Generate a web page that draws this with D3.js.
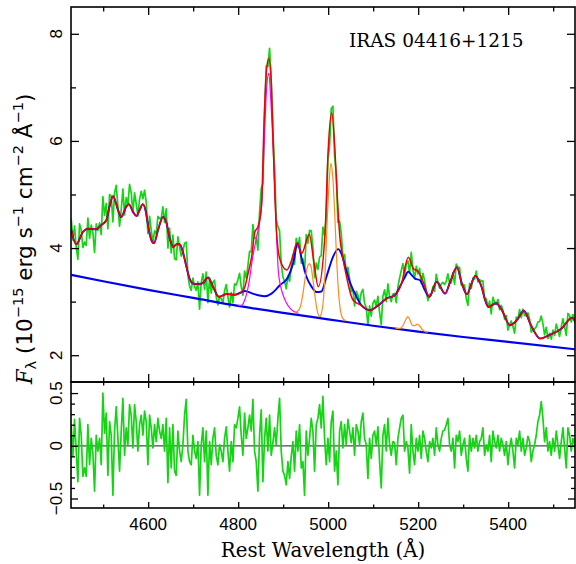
<!DOCTYPE html>
<html><head><meta charset="utf-8">
<script src="https://cdn.jsdelivr.net/npm/d3@7"></script>
<style>body{margin:0;background:#fff}svg{display:block}</style>
</head><body>
<svg id="c" width="576" height="564"></svg>
<script>
// ---------------- DATA ----------------
// observed spectrum sampled on a linear wavelength grid (Angstrom)
const specStart = 4429, specStep = 3.704;
const obsFlux = [
4.54,4.15,4.41,4.02,3.79,4.45,4.34,4.01,4.11,4.05,
4.56,4.18,4.43,4.29,3.92,4.45,4.33,4.47,4.25,4.96,
4.61,4.83,4.36,5.00,4.97,4.49,5.03,5.17,4.79,4.41,
4.72,5.10,4.62,4.94,4.81,5.19,5.03,4.66,5.03,4.83,
4.60,4.91,5.06,4.92,5.08,4.86,4.27,4.59,4.33,4.10,
4.32,4.26,4.59,4.55,4.56,4.77,4.48,4.73,4.00,4.37,
3.91,4.24,3.80,3.78,4.21,4.02,3.85,3.94,4.09,4.11,
3.50,3.29,3.21,3.44,3.28,3.21,3.37,2.86,3.35,3.52,
3.23,3.55,2.98,3.44,3.16,3.36,3.40,3.09,2.94,3.10,
3.06,2.97,3.20,3.32,3.09,2.90,3.17,2.98,3.33,3.31,
3.41,3.53,3.28,3.12,3.57,3.44,3.67,3.94,3.93,4.44,
4.19,4.19,3.96,4.67,5.11,5.21,6.52,7.40,7.39,7.73,
7.10,6.23,5.50,4.53,4.40,4.32,3.70,3.46,3.38,3.24,
3.48,3.38,3.65,3.88,3.70,4.18,4.02,4.20,3.72,3.80,
3.56,4.25,4.09,4.33,4.32,4.01,3.45,3.72,3.60,3.83,
3.86,4.39,4.24,4.58,5.65,5.90,6.60,6.65,5.72,5.38,
4.48,4.50,4.28,3.82,3.88,3.53,3.64,3.42,3.19,3.22,
2.92,3.19,3.12,2.97,3.17,3.23,2.97,2.89,2.56,2.92,
2.73,2.97,3.03,2.92,3.10,2.80,2.57,3.10,3.22,3.00,
3.33,3.09,3.00,3.14,3.15,2.98,3.28,3.44,3.58,3.71,
3.49,3.70,3.76,3.53,3.92,3.60,3.43,3.66,3.52,3.62,
3.34,3.53,3.39,3.20,3.02,3.14,3.13,3.28,3.19,3.51,
3.36,3.25,3.33,3.36,3.32,3.38,3.52,3.34,3.35,3.54,
3.32,3.70,3.64,3.64,3.31,3.32,3.31,3.06,2.93,3.34,
3.25,3.44,3.42,3.57,3.37,3.41,3.38,3.39,3.04,3.05,
2.90,3.01,2.77,3.08,2.99,2.95,3.04,2.85,2.93,2.84,
2.67,2.74,2.47,2.57,2.64,2.54,2.41,2.71,2.68,2.85,
2.70,2.86,2.74,2.74,2.79,2.67,2.43,2.48,2.49,2.53,
2.62,2.63,2.73,2.59,2.38,2.52,2.31,2.41,2.30,2.47,
2.37,2.58,2.47,2.35,2.53,2.68,2.53,2.37,2.78,2.74,
2.62,2.76,2.65];
// residuals (data - model) on the same grid
const residual = [
0.20,-0.10,0.25,-0.05,-0.34,0.26,0.10,-0.29,-0.21,-0.29,
0.20,-0.18,0.07,-0.07,-0.43,0.10,-0.05,0.07,-0.18,0.50,
0.12,0.31,-0.28,0.23,0.10,-0.47,0.14,0.37,0.07,-0.24,
0.14,0.45,-0.09,0.17,0.01,0.39,0.29,-0.02,0.39,0.23,
-0.05,0.20,0.29,0.10,0.33,0.23,-0.18,0.29,0.17,-0.02,
0.20,0.04,0.26,0.14,0.07,0.20,-0.05,0.26,-0.35,0.17,
-0.21,0.20,-0.24,-0.28,0.14,-0.05,-0.15,0.01,0.29,0.44,
-0.05,-0.15,-0.18,0.10,-0.05,-0.12,0.04,-0.47,0.01,0.17,
-0.15,0.14,-0.47,0.04,-0.18,0.07,0.17,-0.09,-0.18,0.01,
-0.05,-0.15,0.07,0.18,-0.05,-0.24,0.04,-0.15,0.20,0.17,
0.26,0.37,0.10,-0.09,0.31,0.07,0.17,0.29,0.14,0.44,
-0.05,-0.15,-0.43,0.10,0.34,-0.34,0.07,0.26,-0.05,0.29,
-0.09,0.03,0.17,0.01,0.26,0.45,-0.05,-0.24,-0.28,-0.37,
-0.15,-0.31,-0.10,0.04,-0.24,0.14,-0.05,0.20,-0.21,-0.15,
-0.47,0.14,-0.09,0.07,0.26,0.14,-0.24,0.20,0.26,0.39,
0.17,
0.47,0.07,-0.18,0.07,-0.15,0.23,0.33,-0.24,-0.05,-0.37,
0.14,0.23,-0.02,0.20,0.01,0.25,0.14,0.03,0.17,-0.09,
0.20,0.14,0.01,0.23,0.31,0.07,0.01,-0.31,0.07,-0.12,
0.10,0.14,0.01,0.18,-0.15,-0.40,0.10,0.20,-0.05,0.26,
0.01,-0.09,0.04,0.03,-0.18,0.07,0.17,0.26,0.29,-0.05,
0.04,-0.02,-0.26,0.20,-0.05,-0.18,0.07,-0.05,0.10,-0.12,
0.14,0.07,-0.05,-0.15,0.04,-0.02,0.07,-0.09,0.17,0.01,
-0.05,0.07,0.14,0.15,0.20,0.26,0.01,-0.05,0.07,-0.21,
0.10,0.04,0.14,-0.09,0.01,0.07,-0.12,-0.24,0.10,-0.05,
0.07,-0.02,0.10,-0.05,0.04,0.07,0.17,-0.09,0.01,-0.05,
0.10,-0.15,0.14,0.04,-0.02,0.10,-0.05,0.07,0.01,-0.09,
0.04,-0.18,-0.02,0.07,-0.05,-0.21,0.07,0.01,0.14,-0.05,
0.07,-0.09,-0.02,0.09,0.04,-0.15,-0.05,0.01,0.10,0.23,
0.29,0.42,0.26,0.04,0.17,-0.05,0.04,-0.09,0.07,-0.05,
0.14,0.01,-0.12,0.04,0.17,-0.02,-0.21,0.17,0.10,-0.05,
0.07,0.01];

// total model (red)
const modelWave = [4429,4440,4455,4466,4484,4496,4507,4514,4522,4533,4540,4551,4557,4566,4574,4581,4588,4594,4599,4607,
4613,4622,4633,4641,4648,4656,4663,4670,4677,4685,4692,4699,4704,4714,4722,4733,4744,4757,4774,4793,
4808,4815,4822,4830,4837,4844,4852,4857,4863,4868,4873,4878,4885,4893,4908,4919,4931,4941,4958,4968,
4978,4993,5000,5008,5015,5020,5026,5032,5041,5055,5074,5093,5111,5130,5148,5163,5178,5189,5200,5211,
5225,5241,5260,5271,5286,5297,5308,5327,5338,5356,5373,5386,5404,5419,5435,5449,5471,5490,5519,5542,5551];
const modelFlux = [4.34,4.07,4.30,4.36,4.35,4.43,4.52,4.77,4.97,4.71,4.58,4.77,4.82,4.68,4.60,4.71,4.82,4.71,4.46,4.15,
4.09,4.34,4.58,4.46,4.18,4.02,4.07,4.07,3.93,3.65,3.43,3.34,3.33,3.33,3.35,3.45,3.28,3.09,3.14,3.13,
3.18,3.28,3.53,3.84,4.30,4.40,4.83,6.21,7.33,7.54,7.20,5.89,4.34,3.78,3.59,3.78,4.10,3.90,4.26,3.75,
3.28,4.27,5.83,6.52,5.83,5.00,4.20,3.85,3.46,3.03,2.93,2.84,2.93,3.06,3.12,3.34,3.83,3.62,3.56,3.37,
3.09,3.37,3.15,3.37,3.64,3.34,3.14,3.48,3.34,2.90,2.97,2.84,2.56,2.65,2.83,2.59,2.31,2.37,2.50,2.70,2.59];

// Fe II + continuum (blue) where it departs from the total model
const feLineWave = [4808,4815,4832,4845,4858,4874,4893,4911,4922,4932,4941,4952,4963,4974,4985,4996,5011,5022,5030,5037,5048,5063,5074,
5163,5170,5178,5185,5193,5204,5215,5225];
const feLineFlux = [3.18,3.20,3.15,3.12,3.10,3.15,3.31,3.46,3.71,4.09,3.81,3.46,3.28,3.18,3.19,3.46,3.84,3.98,3.88,3.68,3.37,3.09,2.93,
3.34,3.45,3.56,3.50,3.43,3.40,3.21,3.09];

// power-law continuum (blue straight-ish line)
const contWave = [4429,4500,4600,4700,4800,4900,5000,5100,5200,5300,5400,5550];
const contFlux = [3.50,3.38,3.22,3.07,2.92,2.79,2.67,2.55,2.44,2.34,2.25,2.11];

// broad H-beta (+continuum), magenta
const hbWave = [4800,4808,4814,4819,4825,4830,4836,4841,4847,4852,4856,4859,4863,4868,4872,4876,4879,4882,4886,4889,4894,4900,4907,4915,4925,4934];
const hbFlux = [2.93,2.93,3.02,3.15,3.40,3.71,4.00,4.21,4.45,4.77,5.50,6.21,6.95,7.26,6.85,6.21,5.60,4.96,4.10,3.59,3.30,3.12,2.98,2.88,2.81,2.78];

// narrow [O III] lines (+continuum), orange
const o3Wave = [4926,4932,4938,4944,4949,4954,4958,4962,4966,4971,4976,4981,4986,4990,4994,4998,5002,5006,5010,5014,5018,5022,5027,5033,5040];
const o3Flux = [2.80,2.82,2.90,3.15,3.45,3.65,3.71,3.65,3.42,3.08,2.82,2.72,2.82,3.10,3.70,4.55,5.20,5.58,5.35,4.75,3.95,3.30,2.85,2.68,2.64];

// weak narrow lines near 5177-5199 (+continuum), orange
const nlWave = [5150,5160,5166,5171,5177,5182,5187,5192,5198,5203,5209,5216,5222];
const nlFlux = [2.50,2.50,2.55,2.64,2.72,2.65,2.56,2.55,2.58,2.55,2.48,2.44,2.43];

// ticks
const xMajor = [4600,4800,5000,5200,5400];
const xMinor = [4500,4700,4900,5100,5300,5500];
const xLabels = ["4600","4800","5000","5200","5400"];
const yTopMajor = [2,4,6,8];
const yTopMinor = [3,5,7];
const yTopLabels = ["2","4","6","8"];
const yResMajor = [-0.5,0,0.5];
const yResMinor = [-0.4,-0.3,-0.2,-0.1,0.1,0.2,0.3,0.4];
const yResLabels = ["\u22120.5","0","0.5"];
const title = "IRAS 04416+1215";
const xTitle = "Rest Wavelength (\u00C5)";

// ---------------- LAYOUT ----------------
const L = 71, R = 575, T = 7, M = 382, B = 508;
const x = d3.scaleLinear().domain([4428.5, 5548.5]).range([L, R]);
const yT = d3.scaleLinear().domain([1.5, 8.5]).range([M, T]);
const yB = d3.scaleLinear().domain([-0.59, 0.605]).range([B, M]);

const svg = d3.select("#c");
const defs = svg.append("defs");
defs.append("clipPath").attr("id","clipT").append("rect").attr("x",L).attr("y",T).attr("width",R-L).attr("height",M-T);
defs.append("clipPath").attr("id","clipB").append("rect").attr("x",L).attr("y",M).attr("width",R-L).attr("height",B-M);

const spec = obsFlux.map((f,i) => ({w: specStart + i*specStep, f: f, r: residual[i]}));
const pairs = (ws, fs) => ws.map((w,i) => ({w: w, f: fs[i]}));

// Fe II table: model outside the line windows, dedicated values inside
const inWin = w => (w >= 4808 && w <= 5074) || (w >= 5163 && w <= 5225);
const feTable = pairs(modelWave, modelFlux).filter(d => !inWin(d.w))
  .concat(pairs(feLineWave, feLineFlux)).sort((a,b) => a.w - b.w);

const lineT = d3.line().x(d => x(d.w)).y(d => yT(d.f));
const smoothT = d3.line().x(d => x(d.w)).y(d => yT(d.f)).curve(d3.curveMonotoneX);

const gT = svg.append("g").attr("clip-path","url(#clipT)");
gT.append("path").datum(spec).attr("d", lineT)
  .attr("fill","none").attr("stroke","#14d414").attr("stroke-width",1.7).attr("stroke-linejoin","round");
gT.append("path").datum(pairs(contWave, contFlux)).attr("d", smoothT)
  .attr("fill","none").attr("stroke","#0000f0").attr("stroke-width",2.2);
gT.append("path").datum(feTable).attr("d", smoothT)
  .attr("fill","none").attr("stroke","#0000ff").attr("stroke-width",1.9);
gT.append("path").datum(pairs(hbWave, hbFlux)).attr("d", smoothT)
  .attr("fill","none").attr("stroke","#ff00ff").attr("stroke-width",1.2);
gT.append("path").datum(pairs(o3Wave, o3Flux)).attr("d", smoothT)
  .attr("fill","none").attr("stroke","#ff8a1c").attr("stroke-width",1.2);
gT.append("path").datum(pairs(nlWave, nlFlux)).attr("d", smoothT)
  .attr("fill","none").attr("stroke","#ff8a1c").attr("stroke-width",1.2);
gT.append("path").datum(pairs(modelWave, modelFlux)).attr("d", smoothT)
  .attr("fill","none").attr("stroke","#f00000").attr("stroke-width",1.5);

// residual panel
const gB = svg.append("g").attr("clip-path","url(#clipB)");
gB.append("line").attr("x1",L).attr("x2",R).attr("y1",yB(0)).attr("y2",yB(0))
  .attr("stroke","#4a4a4a").attr("stroke-width",1.3);
gB.append("path").datum(spec).attr("d", d3.line().x(d => x(d.w)).y(d => yB(d.r)))
  .attr("fill","none").attr("stroke","#14d414").attr("stroke-width",1.7).attr("stroke-linejoin","round");

// ---------------- AXES ----------------
function ticks(axisFn, scale, vals, size, tx, ty) {
  const g = svg.append("g").attr("transform", `translate(${tx},${ty})`)
    .call(axisFn(scale).tickValues(vals).tickSize(size).tickFormat(""));
  g.select(".domain").remove();
  g.selectAll(".tick line").attr("stroke","#000").attr("stroke-width",1.3);
}
// top panel
ticks(d3.axisTop, x, xMajor, -8, 0, T);
ticks(d3.axisTop, x, xMinor, -4.5, 0, T);
ticks(d3.axisBottom, x, xMajor, -8, 0, M);
ticks(d3.axisBottom, x, xMinor, -4.5, 0, M);
ticks(d3.axisLeft, yT, yTopMajor, -8, L, 0);
ticks(d3.axisLeft, yT, yTopMinor, -5, L, 0);
ticks(d3.axisRight, yT, yTopMajor, -8, R, 0);
ticks(d3.axisRight, yT, yTopMinor, -5, R, 0);
// residual panel
ticks(d3.axisTop, x, xMajor, -6, 0, M);
ticks(d3.axisTop, x, xMinor, -3.5, 0, M);
ticks(d3.axisBottom, x, xMajor, -6, 0, B);
ticks(d3.axisBottom, x, xMinor, -3.5, 0, B);
ticks(d3.axisLeft, yB, yResMajor, -7, L, 0);
ticks(d3.axisLeft, yB, yResMinor, -4, L, 0);
ticks(d3.axisRight, yB, yResMajor, -7, R, 0);
ticks(d3.axisRight, yB, yResMinor, -4, R, 0);

// frames
svg.append("rect").attr("x",L).attr("y",T).attr("width",R-L).attr("height",M-T)
  .attr("fill","none").attr("stroke","#000").attr("stroke-width",1.6);
svg.append("rect").attr("x",L).attr("y",M).attr("width",R-L).attr("height",B-M)
  .attr("fill","none").attr("stroke","#000").attr("stroke-width",1.6);

// tick labels
const tickFont = "'Liberation Sans', Arial, sans-serif";
svg.append("g").selectAll("text").data(xMajor).join("text")
  .attr("x", d => x(d)).attr("y", 529.5).attr("text-anchor","middle")
  .attr("font-family", tickFont).attr("font-size", 17).text((d,i) => xLabels[i]);
svg.append("g").selectAll("text").data(yTopMajor).join("text")
  .attr("transform", d => `translate(61.5,${yT(d)}) rotate(-90)`).attr("text-anchor","middle")
  .attr("font-family", tickFont).attr("font-size", 17).text((d,i) => yTopLabels[i]);
svg.append("g").selectAll("text").data(yResMajor).join("text")
  .attr("transform", d => `translate(61.5,${yB(d)}) rotate(-90)`).attr("text-anchor","middle")
  .attr("font-family", tickFont).attr("font-size", 17).text((d,i) => yResLabels[i]);

// titles
svg.append("text").attr("x", 349).attr("y", 47)
  .attr("font-family","'DejaVu Serif', serif").attr("font-size", 18.5).text(title);
svg.append("text").attr("x", 323).attr("y", 557).attr("text-anchor","middle")
  .attr("font-family","'DejaVu Serif', serif").attr("font-size", 19.8).text(xTitle);

const yl = svg.append("text").attr("transform","translate(32,239) rotate(-90)")
  .attr("text-anchor","middle").attr("font-family","'DejaVu Sans', sans-serif").attr("font-size", 21.5);
const parts = [
  {t:"F", style:"italic", fam:"'DejaVu Serif', serif"},
  {t:"\u03BB", size:14.5, dy:4},
  {t:" (10", dy:-4},
  {t:"\u221215", size:14.5, dy:-9},
  {t:" erg s", dy:9},
  {t:"\u22121", size:14.5, dy:-9},
  {t:" cm", dy:9},
  {t:"\u22122", size:14.5, dy:-9},
  {t:" \u00C5", dy:9},
  {t:"\u22121", size:14.5, dy:-9},
  {t:")", dy:9}
];
parts.forEach(p => {
  const s = yl.append("tspan").text(p.t);
  if (p.style) s.attr("font-style", p.style);
  if (p.fam) s.attr("font-family", p.fam);
  if (p.size) s.attr("font-size", p.size);
  if (p.dy) s.attr("dy", p.dy);
});
</script>
</body></html>
